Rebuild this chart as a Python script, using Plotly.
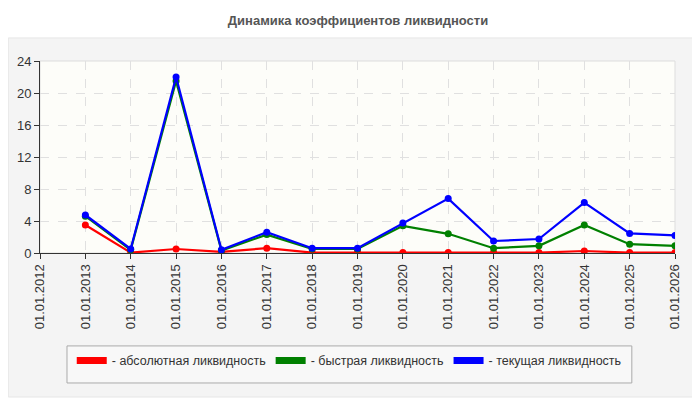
import plotly.graph_objects as go

dates = ["01.01.%d" % y for y in range(2012, 2027)]
absolute = [None, 3.5, 0.05, 0.5, 0.15, 0.6, 0.05, 0.05, 0.05, 0.05, 0.05, 0.05, 0.25, 0.05, 0.05]
quick = [None, 4.6, 0.4, 21.5, 0.3, 2.3, 0.5, 0.5, 3.4, 2.4, 0.6, 0.9, 3.5, 1.1, 0.9]
current = [None, 4.75, 0.5, 22.0, 0.4, 2.6, 0.6, 0.6, 3.75, 6.8, 1.5, 1.75, 6.3, 2.45, 2.2]

names = ["- абсолютная ликвидность", "- быстрая ликвидность", "- текущая ликвидность"]
colors = ["#ff0000", "#008000", "#0000ff"]

fig = go.Figure()
for vals, name, col in zip([absolute, quick, current], names, colors):
    fig.add_trace(go.Scatter(x=dates, y=vals, mode="lines+markers", showlegend=False,
                             line=dict(color=col, width=2.2), marker=dict(color=col, size=7),
                             connectgaps=False))
# legend swatches
for name, col in zip(names, colors):
    fig.add_trace(go.Scatter(x=[None], y=[None], mode="lines", name=name,
                             line=dict(color=col, width=7)))

# page has an 8px body margin, so margins are shifted to compensate
fig.update_layout(
    width=700, height=400,
    margin=dict(l=32, r=33, t=53, b=155, autoexpand=False),
    paper_bgcolor="white",
    plot_bgcolor="#fdfdf9",
    font=dict(family="Liberation Sans, Arial, sans-serif", size=12, color="#333"),
    title=dict(text="<b>Динамика коэффициентов ликвидности</b>", x=0.5, xanchor="center",
               y=0.97, yanchor="middle", font=dict(size=13, color="#555")),
    legend=dict(orientation="h", x=0.487, xanchor="center", y=-0.562, yanchor="middle",
                bgcolor="rgba(0,0,0,0)", borderwidth=0,
                itemwidth=30, font=dict(size=12.5, color="#333")),
    shapes=[
        # outer panel
        dict(type="rect", xref="paper", yref="paper", x0=-0.05, x1=1.035, y0=-0.75, y1=1.12,
             fillcolor="#f4f4f4", line=dict(color="#e6e6e6", width=1), layer="below"),
        # plot frame
        dict(type="rect", xref="paper", yref="paper", x0=0, x1=1, y0=0, y1=1,
             fillcolor="#fdfdf9", line=dict(color="#dddddd", width=1), layer="below"),
        # legend box
        dict(type="rect", xref="paper", yref="paper", x0=0.0425, x1=0.932, y0=-0.677, y1=-0.484,
             fillcolor="#f8f8f8", line=dict(color="#aaaaaa", width=1), layer="below"),
    ],
)
fig.update_xaxes(type="category", range=[0, 14], showgrid=True, gridcolor="#e0e0e0", griddash="dash",
                 showline=True, linecolor="#333", linewidth=1, ticks="outside", ticklen=5,
                 tickcolor="#333", tickangle=-90, tickfont=dict(size=13, color="#333"),
                 zeroline=False, automargin=False)
fig.update_yaxes(range=[0, 24], dtick=4, showgrid=True, gridcolor="#e0e0e0", griddash="dash",
                 showline=True, linecolor="#333", linewidth=1, ticks="outside", ticklen=5,
                 tickcolor="#333", tickfont=dict(size=13, color="#333"),
                 zeroline=False, automargin=False)

fig.write_html("out.html")
